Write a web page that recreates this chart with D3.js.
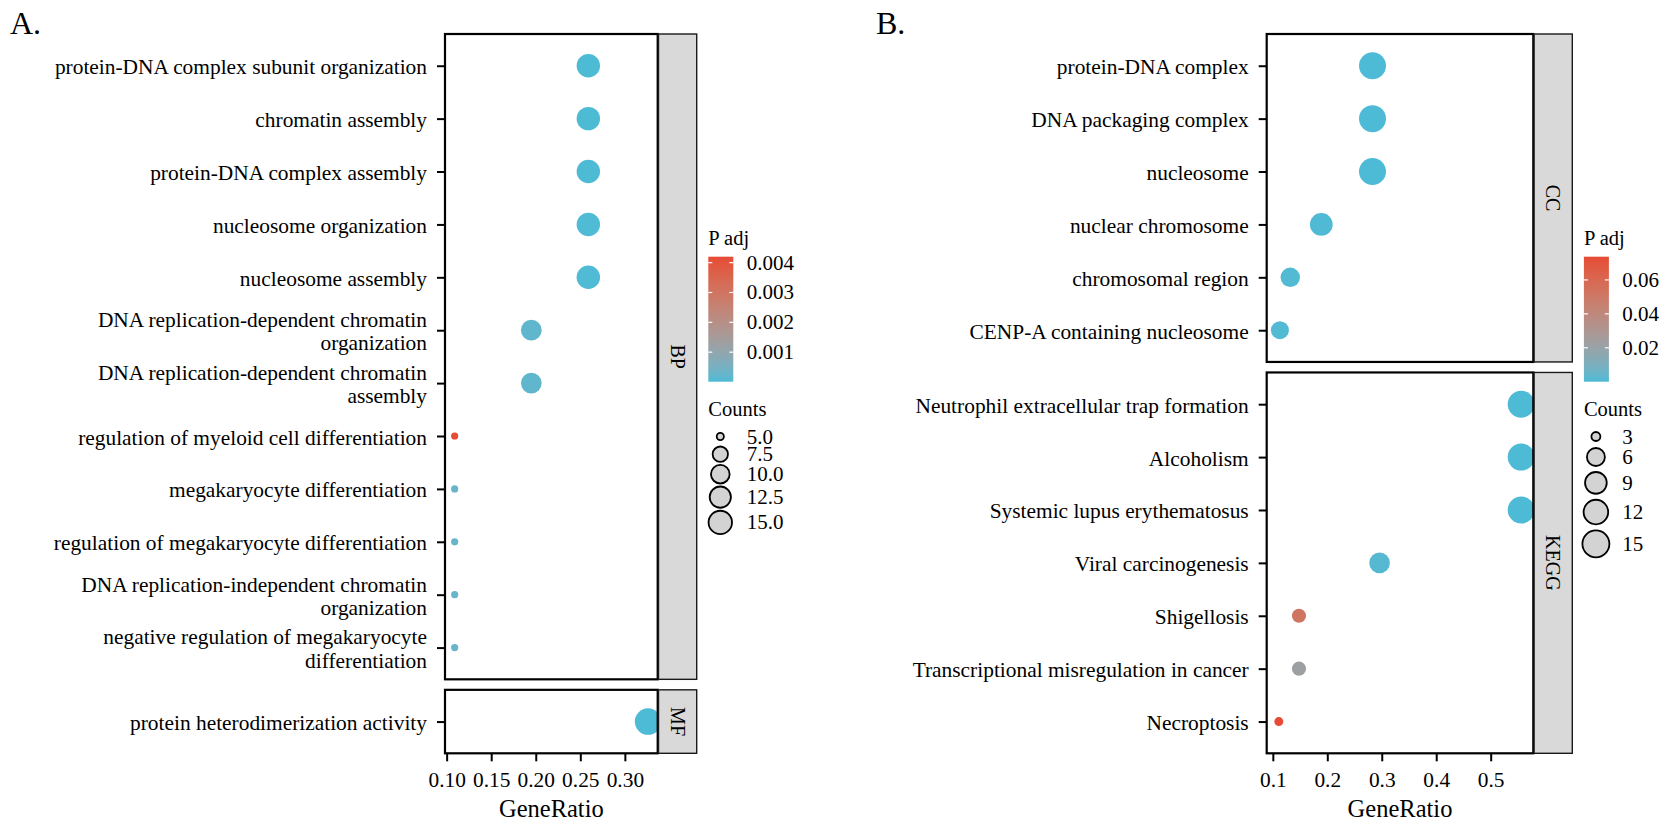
<!DOCTYPE html>
<html>
<head>
<meta charset="utf-8">
<script src="https://cdn.jsdelivr.net/npm/d3@7"></script>
<style>
  body { margin: 0; background: #fff; }
  text { font-family: "Liberation Serif", "Times New Roman", serif; fill: #000; }
</style>
</head>
<body>
<div id="chart"></div>
<script>
// ---- data ----
// Panel A: GO BP / MF
const bpTerms = [
  "protein-DNA complex subunit organization",
  "chromatin assembly",
  "protein-DNA complex assembly",
  "nucleosome organization",
  "nucleosome assembly",
  "DNA replication-dependent chromatin\norganization",
  "DNA replication-dependent chromatin\nassembly",
  "regulation of myeloid cell differentiation",
  "megakaryocyte differentiation",
  "regulation of megakaryocyte differentiation",
  "DNA replication-independent chromatin\norganization",
  "negative regulation of megakaryocyte\ndifferentiation"
];
const bpRatio = [0.259, 0.259, 0.259, 0.259, 0.259, 0.195, 0.195, 0.109, 0.109, 0.109, 0.109, 0.109];
const bpCount = [15, 15, 15, 15, 15, 12, 12, 5, 5, 5, 5, 5];
const bpPadj  = [0.00002, 0.00002, 0.00002, 0.00003, 0.00003, 0.0002, 0.0002, 0.0042, 0.0003, 0.0003, 0.0003, 0.0003];

const mfTerms = ["protein heterodimerization activity"];
const mfRatio = [0.326];
const mfCount = [19];
const mfPadj  = [0.00001];

// Panel B: GO CC / KEGG
const ccTerms = [
  "protein-DNA complex",
  "DNA packaging complex",
  "nucleosome",
  "nuclear chromosome",
  "chromosomal region",
  "CENP-A containing nucleosome"
];
const ccRatio = [0.283, 0.283, 0.283, 0.189, 0.132, 0.113];
const ccCount = [15, 15, 15, 10, 7, 6];
const ccPadj  = [0.0000001, 0.0000001, 0.0000001, 0.0005, 0.001, 0.0008];

const keggTerms = [
  "Neutrophil extracellular trap formation",
  "Alcoholism",
  "Systemic lupus erythematosus",
  "Viral carcinogenesis",
  "Shigellosis",
  "Transcriptional misregulation in cancer",
  "Necroptosis"
];
const keggRatio = [0.556, 0.556, 0.556, 0.296, 0.148, 0.148, 0.111];
const keggCount = [15, 15, 15, 8, 4, 4, 3];
const keggPadj  = [0.0000001, 0.0000001, 0.0000002, 0.0016, 0.052, 0.022, 0.0737];

// tick / legend labels
const xTicksA = [0.10, 0.15, 0.20, 0.25, 0.30];
const xTicksB = [0.1, 0.2, 0.3, 0.4, 0.5];
const padjTicksA = [0.001, 0.002, 0.003, 0.004];
const padjTicksB = [0.02, 0.04, 0.06];
const countBreaksA = [5, 7.5, 10, 12.5, 15];
const countBreaksB = [3, 6, 9, 12, 15];

// ---- layout ----
const W = 1667, H = 827;
const panelTop = 34, panelBottom = 753.3, gap = 10.5, stripW = 39;
const lowCol = "#4DBBD5", highCol = "#E64B35";

const svg = d3.select("#chart").append("svg")
  .attr("width", W)
  .attr("height", H)
  .attr("viewBox", [0, 0, W, H].join(" "));
const defs = svg.append("defs");

function expand(vals) {
  const [a, b] = d3.extent(vals);
  const pad = (b - a) * 0.05;
  return [a - pad, b + pad];
}

function drawChart(opt) {
  const g = svg.append("g");
  const allRatio = opt.facets.flatMap(f => f.ratio);
  const allPadj = opt.facets.flatMap(f => f.padj);

  const x = d3.scaleLinear().domain(expand(allRatio)).range([opt.left, opt.right]);
  const pExt = d3.extent(allPadj);
  const color = d3.scaleLinear().domain(pExt).range([lowCol, highCol]).interpolate(d3.interpolateLab);
  const rBase = d3.scaleSqrt().domain([0, opt.sizeMax - opt.sizeMin]).range([opt.rMin, opt.rMax]);
  const r = v => rBase(Math.max(0, v - opt.sizeMin));

  // facet heights follow the number of terms (ggplot space = "free")
  const units = opt.facets.map(f => f.terms.length - 1 + 1.2);
  const unit = (panelBottom - panelTop - gap * (opt.facets.length - 1)) / d3.sum(units);

  let y0 = panelTop;
  opt.facets.forEach((f, fi) => {
    const h = units[fi] * unit;
    const y = d3.scalePoint().domain(f.terms).range([y0, y0 + h]).padding(0.6);
    const clipId = "clip-" + opt.id + "-" + fi;

    defs.append("clipPath").attr("id", clipId)
      .append("rect")
      .attr("x", opt.left).attr("y", y0)
      .attr("width", opt.right - opt.left).attr("height", h);

    g.append("rect")
      .attr("x", opt.left).attr("y", y0)
      .attr("width", opt.right - opt.left).attr("height", h)
      .attr("fill", "#fff");

    g.append("g")
      .attr("clip-path", `url(#${clipId})`)
      .selectAll("circle")
      .data(f.terms.map((t, i) => ({ term: t, ratio: f.ratio[i], count: f.count[i], padj: f.padj[i] })))
      .enter().append("circle")
      .attr("cx", d => x(d.ratio))
      .attr("cy", d => y(d.term))
      .attr("r", d => r(d.count))
      .attr("fill", d => color(d.padj));

    // y axis with wrapped labels
    const yAxis = g.append("g")
      .attr("transform", `translate(${opt.left},0)`)
      .call(d3.axisLeft(y).tickSize(8).tickPadding(10).tickFormat(""));
    yAxis.select(".domain").remove();
    yAxis.selectAll(".tick line").attr("stroke", "#000").attr("stroke-width", 2);
    yAxis.selectAll(".tick").each(function (t) {
      const lines = t.split("\n");
      const txt = d3.select(this).append("text")
        .attr("x", -18)
        .attr("text-anchor", "end")
        .style("font-size", "21.4px")
        .attr("fill", "#000");
      lines.forEach((ln, li) => {
        txt.append("tspan")
          .attr("x", -18)
          .attr("y", 8 + (li - (lines.length - 1) / 2) * 23.3)
          .text(ln);
      });
    });

    // panel border
    g.append("rect")
      .attr("x", opt.left).attr("y", y0)
      .attr("width", opt.right - opt.left).attr("height", h)
      .attr("fill", "none")
      .attr("stroke", "#000")
      .attr("stroke-width", 2.2);

    // strip
    g.append("rect")
      .attr("x", opt.right + 0.8).attr("y", y0)
      .attr("width", stripW - 0.8).attr("height", h)
      .attr("fill", "#D9D9D9")
      .attr("stroke", "#1a1a1a")
      .attr("stroke-width", 1.4);
    g.append("text")
      .attr("transform", `translate(${opt.right + stripW / 2 + 0.4},${y0 + h / 2}) rotate(90)`)
      .attr("text-anchor", "middle")
      .attr("dy", "0.34em")
      .style("font-size", "20px")
      .attr("fill", "#1a1a1a")
      .text(f.name);

    y0 += h + gap;
  });

  // x axis
  const xAxis = g.append("g")
    .attr("transform", `translate(0,${panelBottom})`)
    .call(d3.axisBottom(x).tickValues(opt.xTicks).tickFormat(d3.format(opt.xFmt)).tickSize(8).tickPadding(11));
  xAxis.select(".domain").remove();
  xAxis.selectAll(".tick line").attr("stroke", "#000").attr("stroke-width", 2);
  xAxis.selectAll(".tick text").style("font-size", "21.4px").attr("fill", "#000");

  g.append("text")
    .attr("x", (opt.left + opt.right) / 2)
    .attr("y", 817)
    .attr("text-anchor", "middle")
    .style("font-size", "24.5px")
    .text("GeneRatio");

  // panel tag
  g.append("text")
    .attr("x", opt.tagX)
    .attr("y", 34)
    .style("font-size", "32px")
    .text(opt.tag);

  // ---- legends ----
  const lx = opt.right + stripW + 11.6;
  const barTop = 256.7, barH = 125, barW = 25;
  const leg = g.append("g");

  leg.append("text")
    .attr("x", lx).attr("y", barTop - 12)
    .style("font-size", "20.5px")
    .text("P adj");

  const gradId = "grad-" + opt.id;
  const grad = defs.append("linearGradient").attr("id", gradId)
    .attr("x1", 0).attr("y1", 1).attr("x2", 0).attr("y2", 0);
  d3.range(0, 1.0001, 0.05).forEach(s => {
    grad.append("stop")
      .attr("offset", s)
      .attr("stop-color", color(pExt[0] + s * (pExt[1] - pExt[0])));
  });

  const pScale = d3.scaleLinear().domain(pExt).range([barTop + barH, barTop]);
  leg.append("rect")
    .attr("x", lx).attr("y", barTop)
    .attr("width", barW).attr("height", barH)
    .attr("fill", `url(#${gradId})`);

  opt.padjTicks.forEach(p => {
    const yy = pScale(p);
    leg.append("line")
      .attr("x1", lx).attr("x2", lx + 4).attr("y1", yy).attr("y2", yy)
      .attr("stroke", "#fff").attr("stroke-width", 1.2);
    leg.append("line")
      .attr("x1", lx + barW - 4).attr("x2", lx + barW).attr("y1", yy).attr("y2", yy)
      .attr("stroke", "#fff").attr("stroke-width", 1.2);
    leg.append("text")
      .attr("x", lx + 38.4).attr("y", yy + 7)
      .style("font-size", "21px")
      .text(d3.format(opt.padjFmt)(p));
  });

  leg.append("text")
    .attr("x", lx).attr("y", 415.5)
    .style("font-size", "20.5px")
    .text("Counts");

  // size keys stacked, each key as tall as its circle
  let cy = 436.5, prevH = null;
  opt.countBreaks.forEach(c => {
    const rr = r(c);
    const kh = Math.max(17, 2 * rr + opt.keyPad);
    if (prevH !== null) cy += (prevH + kh) / 2;
    prevH = kh;
    leg.append("circle")
      .attr("cx", lx + 12).attr("cy", cy)
      .attr("r", rr)
      .attr("fill", "#D3D3D3")
      .attr("stroke", "#000")
      .attr("stroke-width", 1.8);
    leg.append("text")
      .attr("x", lx + 38.4).attr("y", cy + 7)
      .style("font-size", "21px")
      .text(d3.format(opt.countFmt)(c));
  });
}

drawChart({
  id: "A", tag: "A.", tagX: 10,
  left: 445, right: 657.7,
  facets: [
    { name: "BP", terms: bpTerms, ratio: bpRatio, count: bpCount, padj: bpPadj },
    { name: "MF", terms: mfTerms, ratio: mfRatio, count: mfCount, padj: mfPadj }
  ],
  xTicks: xTicksA, xFmt: ".2f",
  padjTicks: padjTicksA, padjFmt: ".3f",
  countBreaks: countBreaksA, countFmt: ".1f",
  sizeMin: 5, sizeMax: 19, rMin: 3.6, rMax: 13.2, keyPad: 3
});

drawChart({
  id: "B", tag: "B.", tagX: 876,
  left: 1266.7, right: 1533.3,
  facets: [
    { name: "CC", terms: ccTerms, ratio: ccRatio, count: ccCount, padj: ccPadj },
    { name: "KEGG", terms: keggTerms, ratio: keggRatio, count: keggCount, padj: keggPadj }
  ],
  xTicks: xTicksB, xFmt: ".1f",
  padjTicks: padjTicksB, padjFmt: ".2f",
  countBreaks: countBreaksB, countFmt: "d",
  sizeMin: 3, sizeMax: 15, rMin: 4.5, rMax: 13.5, keyPad: 6
});
</script>
</body>
</html>
